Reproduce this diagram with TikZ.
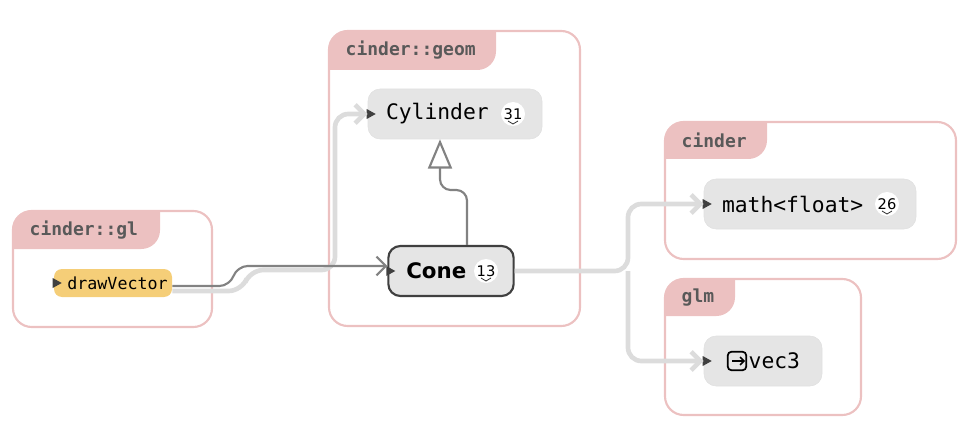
\documentclass[tikz,border=0pt]{standalone}
\usepackage{fontspec}
\setmainfont{DejaVu Sans}
\setmonofont{DejaVu Sans Mono}
\usetikzlibrary{positioning,arrows.meta,calc}
\definecolor{clusterpink}{RGB}{236,193,193}
\definecolor{nodegray}{RGB}{229,229,229}
\definecolor{edgelight}{RGB}{220,220,220}
\definecolor{edgedark}{RGB}{130,130,130}
\definecolor{fnyellow}{RGB}{245,206,120}
\tikzset{
  cluster/.style={draw=clusterpink, line width=1.6pt, rounded corners=14pt},
  tab/.style={fill=clusterpink},
  tablabel/.style={anchor=west, font=\ttfamily\bfseries\fontsize{13.5}{15}\selectfont, text=black!65},
  entity/.style={fill=nodegray, draw=black!12, rounded corners=9pt, minimum height=37.5pt, inner xsep=13.5pt,
    font=\ttfamily\fontsize{16}{18}\selectfont, align=left},
  badge/.style={circle, fill=white, inner sep=0pt, minimum size=18pt, font=\fontsize{11}{12}\selectfont},
  light/.style={draw=edgelight, line width=3.5pt, rounded corners=10pt, -{Straight Barb[length=7pt,width=14pt]}},
  dark/.style={draw=edgedark, line width=1.6pt, rounded corners=8pt}
}
\newcommand{\chev}[1]{\draw[black!80, line width=0.6pt] ($(#1)+(-5,7)$) -- ($(#1)+(0,10)$) -- ($(#1)+(5,7)$);}
\newcommand{\entmark}[1]{\fill[black!75] ($(#1.west)+(-1,-5)$) -- ($(#1.west)+(8,0)$) -- ($(#1.west)+(-1,5)$) -- cycle;}
\begin{document}
\begin{tikzpicture}[x=0.75pt,y=-0.75pt]
  \useasboundingbox (0,0) rectangle (974,442);

  % clusters
  \foreach \xa/\ya/\xb/\yb/\xt/\yt/\name in {
      13/211/212/327/160/249/cinder::gl,
      329/31/580/326/496/70/cinder::geom,
      665/122/956/259/767/159/cinder,
      665/279/861/415/735/316/glm} {
    \begin{scope}
      \clip[rounded corners=14pt] (\xa,\ya) rectangle (\xb,\yb);
      \fill[tab, rounded corners=14pt] (\xa-20,\yt) -- (\xa-20,\ya-20) -- (\xt,\ya-20) -- (\xt,\yt) -- cycle;
    \end{scope}
    \draw[cluster] (\xa,\ya) rectangle (\xb,\yb);
    \node[tablabel] at (\xa+12,{(\ya+\yt)/2}) {\name};
  }

  % entities
  \node[entity, fill=fnyellow, draw=none, minimum width=88.5pt, minimum height=21pt, rounded corners=6pt,
        inner xsep=10pt, font=\ttfamily\fontsize{12.5}{14}\selectfont, text width=68.5pt] (drawVector) at (113,283) {drawVector};
  \node[entity, minimum width=130.5pt, text width=103.5pt] (cylinder) at (455,114) {Cylinder};
  \node[entity, draw=black!75, line width=1.6pt, minimum width=94pt, text width=67pt,
        font=\bfseries\fontsize{16}{18}\selectfont] (cone) at (451,271) {Cone};
  \node[entity, minimum width=159pt, text width=132pt] (math) at (810,204) {math<float>};
  \node[entity, minimum width=88.5pt, text width=61.5pt] (vec3) at (763,361) {\hspace{20pt}vec3};

  \node[badge] (b31) at (513,114) {31};
  \node[badge] (b13) at (486,271) {13};
  \node[badge] (b26) at (887,204) {26};
  \chev{b31} \chev{b13} \chev{b26}
  \foreach \n in {drawVector,cylinder,cone,math,vec3} { \entmark{\n} }
  \node[draw=black, line width=1.3pt, rounded corners=3pt, minimum size=14pt, inner sep=0pt] (icon) at (737,361) {};
  \draw[black, line width=1.2pt, -{Straight Barb[length=3pt,width=6pt]}] ($(icon.center)+(-5,0)$) -- ($(icon.east)+(-2,0)$);

  % connectors
  \coordinate (split) at (628,271);
  \draw[light] ($(drawVector.east)+(0,8)$) -- (242,291) -- (250,270) -- (335,270) -- (335,114) -- (cylinder.west);
  \draw[dark, -{Straight Barb[length=7pt,width=14pt]}] ($(drawVector.east)+(0,3)$) -- (230,286) -- (237,266) -- ($(cone.west)+(0,-5)$);
  \draw[dark, -{Triangle[open, length=22pt, width=18pt, fill=white]}] ($(cone.north)+(16,0)$) -- (467,190) -- (440,190) -- ($(cylinder.south)+(-15,0)$);
  \draw[light] (cone.east) -- (split) -- (628,204) -- (math.west);
  \draw[light] (split) -- (628,361) -- (vec3.west);
\end{tikzpicture}
\end{document}
